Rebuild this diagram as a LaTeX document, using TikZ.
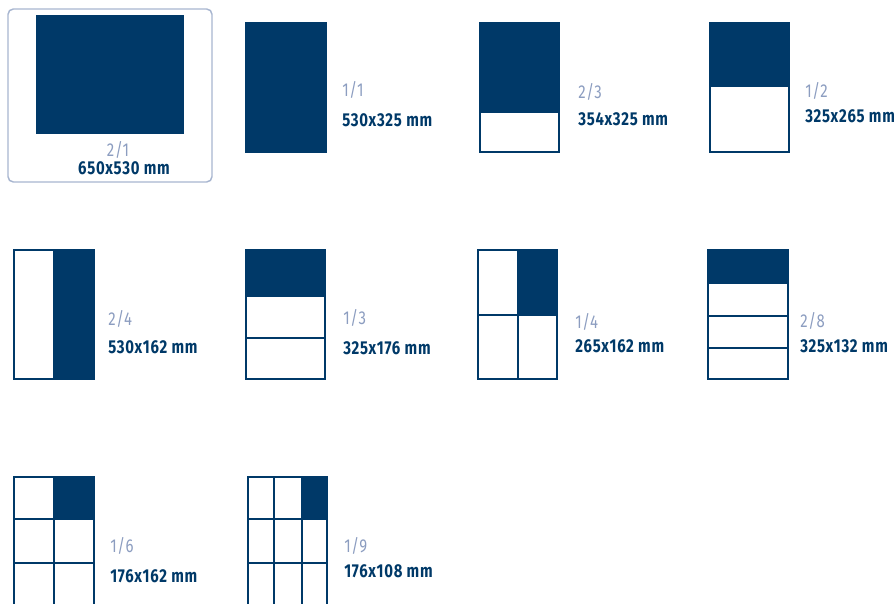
\documentclass[tikz,border=0pt]{standalone}
\usepackage{fontspec}
\setmainfont[FakeStretch=0.8,LetterSpace=4]{Fira Sans}
\definecolor{navy}{RGB}{0,57,104}
\definecolor{paleblue}{RGB}{140,157,192}
\definecolor{framegrey}{RGB}{168,182,208}

\begin{document}
\begin{tikzpicture}[x=0.75pt,y=-0.75pt,
  cell/.style={draw=navy,line width=1.4pt},
  fraction/.style={anchor=base west,inner sep=0pt,text=paleblue,font=\fontsize{14}{16}\selectfont},
  format/.style={anchor=base west,inner sep=0pt,text=navy,font=\fontsize{14}{16}\selectfont\bfseries}]
  \useasboundingbox (0,0) rectangle (894,604);

  % 2/1
  \draw[framegrey,line width=1.1pt,rounded corners=4pt] (8,9) rectangle (212,182);
  \fill[navy] (36,15) rectangle (184,134);
  \node[fraction,anchor=base] (f21) at (118,156) {2/1};
  \node[format,anchor=base] (d21) at (124,174) {650x530 mm};

  % 1/1
  \filldraw[cell,fill=navy] (246,23) rectangle (326,152);
  \node[fraction] (f11) at (342,96) {1/1};
  \node[format] (d11) at (342,126) {530x325 mm};

  % 2/3
  \filldraw[cell,fill=navy] (480,23) rectangle (559,112);
  \draw[cell] (480,23) rectangle (559,152);
  \node[fraction] (f23) at (578,98) {2/3};
  \node[format] (d23) at (578,125) {354x325 mm};

  % 1/2
  \filldraw[cell,fill=navy] (710,23) rectangle (789,86);
  \draw[cell] (710,23) rectangle (789,152);
  \node[fraction] (f12) at (805,97) {1/2};
  \node[format] (d12) at (805,122) {325x265 mm};

  % 2/4
  \filldraw[cell,fill=navy] (54,250) rectangle (94,379);
  \draw[cell] (14,250) rectangle (94,379);
  \node[fraction] (f24) at (108,325) {2/4};
  \node[format] (d24) at (108,353) {530x162 mm};

  % 1/3
  \filldraw[cell,fill=navy] (246,250) rectangle (325,296);
  \draw[cell] (246,250) rectangle (325,379) (246,338) -- (325,338);
  \node[fraction] (f13) at (343,324) {1/3};
  \node[format] (d13) at (343,354) {325x176 mm};

  % 1/4
  \filldraw[cell,fill=navy] (518,250) rectangle (557,315);
  \draw[cell] (478,250) rectangle (557,379) (518,250) -- (518,379) (478,315) -- (557,315);
  \node[fraction] (f14) at (575,328) {1/4};
  \node[format] (d14) at (575,352) {265x162 mm};

  % 2/8
  \filldraw[cell,fill=navy] (708,250) rectangle (788,283);
  \draw[cell] (708,250) rectangle (788,379);
  \foreach \y in {316,348}
    \draw[cell] (708,\y) -- (788,\y);
  \node[fraction] (f28) at (800,327) {2/8};
  \node[format] (d28) at (800,352) {325x132 mm};

  % 1/6
  \filldraw[cell,fill=navy] (54,477) rectangle (94,519);
  \draw[cell] (14,477) rectangle (94,606) (54,477) -- (54,606);
  \foreach \y in {519,563}
    \draw[cell] (14,\y) -- (94,\y);
  \node[fraction] (f16) at (110,552) {1/6};
  \node[format] (d16) at (110,582) {176x162 mm};

  % 1/9
  \filldraw[cell,fill=navy] (302,477) rectangle (327,519);
  \draw[cell] (248,477) rectangle (327,606);
  \foreach \x in {274,302}
    \draw[cell] (\x,477) -- (\x,606);
  \foreach \y in {519,563}
    \draw[cell] (248,\y) -- (327,\y);
  \node[fraction] (f19) at (344,552) {1/9};
  \node[format] (d19) at (344,577) {176x108 mm};
\end{tikzpicture}
\end{document}
